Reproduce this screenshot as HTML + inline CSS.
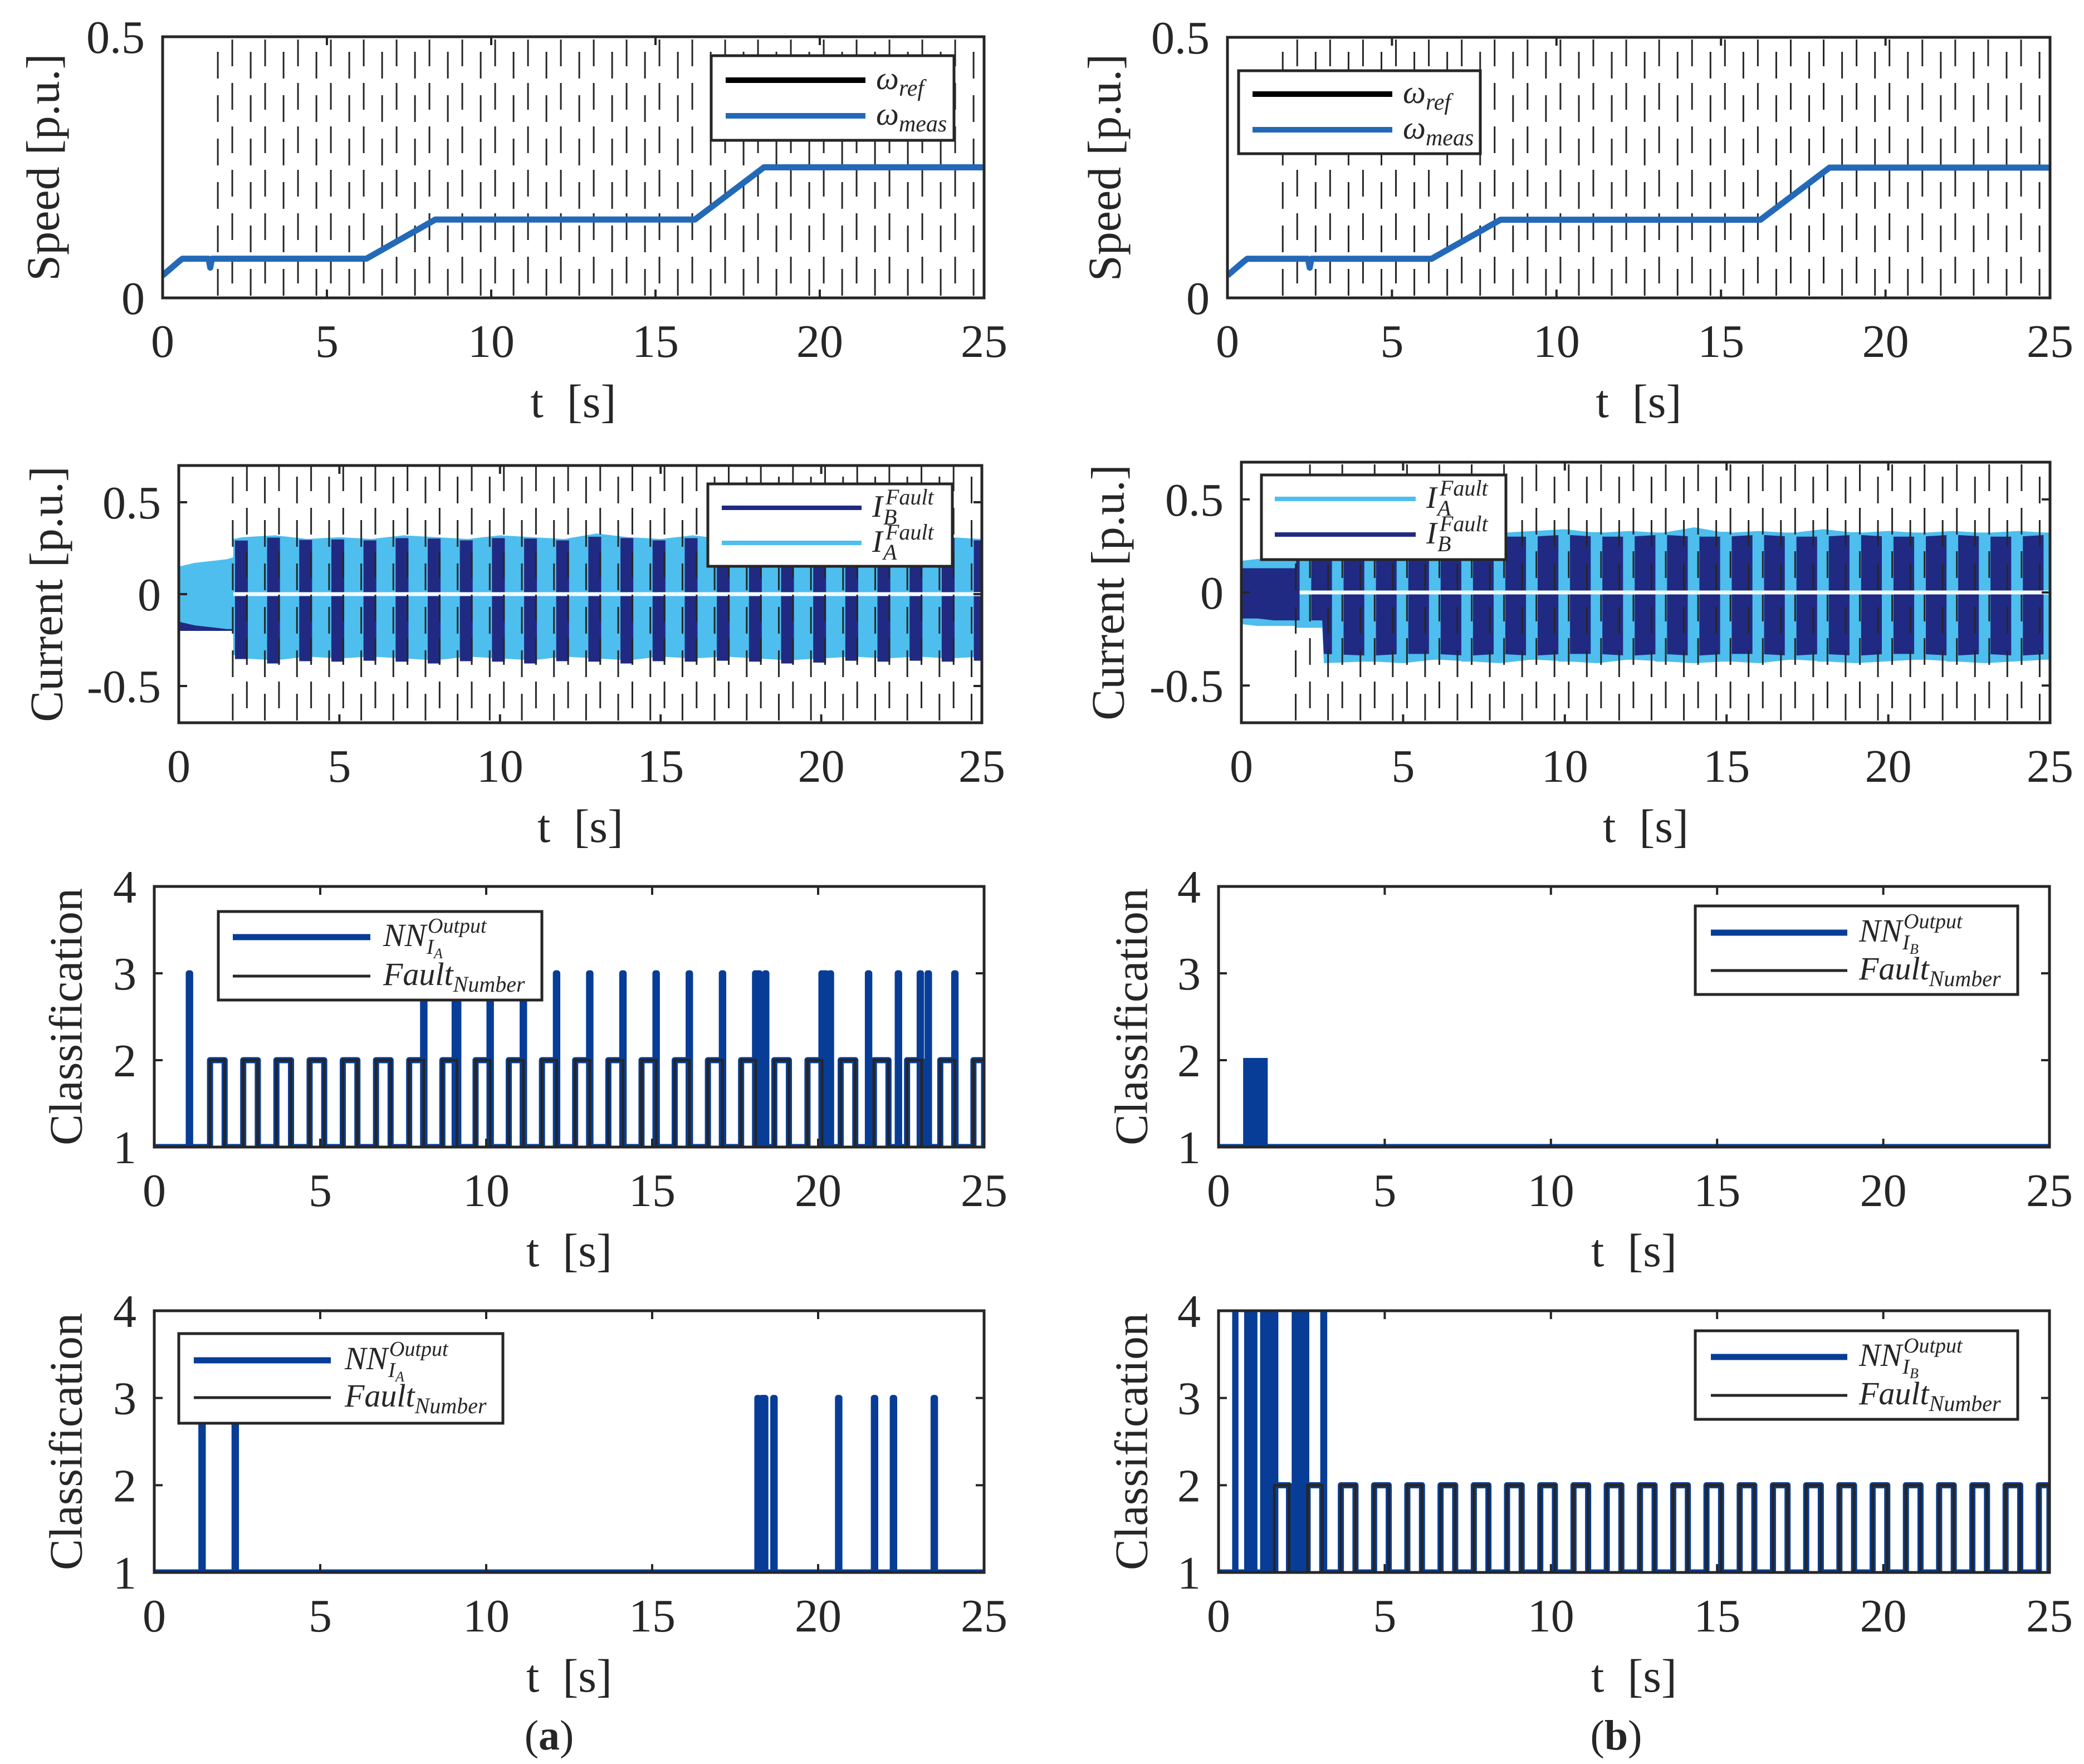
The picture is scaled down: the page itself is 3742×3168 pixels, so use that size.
<!DOCTYPE html>
<html><head><meta charset="utf-8">
<style>
html,body{margin:0;padding:0;background:#fff;}
svg{display:block;}
text{font-family:"Liberation Serif",serif;fill:#262626;}
</style></head>
<body>
<svg id="fig" xmlns="http://www.w3.org/2000/svg" width="3742" height="3168" viewBox="0 0 3742 3168">
<rect width="3742" height="3168" fill="#fff"/>
</svg>
<script>
// ---------- data ----------
const xTicks = [0,5,10,15,20,25];
const speedT_a = [0,0.5,0.6,1.4,1.45,1.5,6.2,8.3,16.2,18.3,25];
const speedV_a = [0.043,0.07,0.075,0.075,0.058,0.075,0.075,0.15,0.15,0.25,0.25];
const speedT_b = [0,0.5,0.6,2.45,2.5,2.55,6.2,8.3,16.2,18.3,25];
const speedV_b = [0.043,0.07,0.075,0.075,0.058,0.075,0.075,0.15,0.15,0.25,0.25];
const faultOn  = [1.68,2.68,3.68,4.68,5.68,6.68,7.68,8.68,9.68,10.68,11.68,12.68,13.68,14.68,15.68,16.68,17.68,18.68,19.68,20.68,21.68,22.68,23.68,24.68];
const faultOff = [2.12,3.12,4.12,5.12,6.12,7.12,8.12,9.12,10.12,11.12,12.12,13.12,14.12,15.12,16.12,17.12,18.12,19.12,20.12,21.12,22.12,23.12,24.12,25];
// current envelopes
const envT = [0,0.5,1,1.5,1.69,1.7,2,3,4,5,6,7,8,9,10,11,12,13,14,15,16,17,18,19,20,21,22,23,24,25];
const aLightTop = [0.15,0.17,0.18,0.19,0.2,0.3,0.31,0.32,0.3,0.31,0.3,0.32,0.31,0.3,0.32,0.31,0.3,0.33,0.31,0.3,0.32,0.3,0.31,0.3,0.32,0.31,0.3,0.33,0.31,0.3];
const aLightBot = [-0.15,-0.17,-0.18,-0.19,-0.19,-0.33,-0.35,-0.36,-0.34,-0.35,-0.34,-0.35,-0.36,-0.34,-0.35,-0.36,-0.34,-0.35,-0.36,-0.34,-0.35,-0.34,-0.35,-0.36,-0.35,-0.34,-0.35,-0.34,-0.35,-0.34];
const aDarkPreTop = 0.12, aDarkPreBot = -0.2;
const aBandB = [1.75,2.75,3.75,4.75,5.75,6.75,7.75,8.75,9.75,10.75,11.75,12.75,13.75,14.75,15.75,16.75,17.75,18.75,19.75,20.75,21.75,22.75,23.75,24.75];
const bLightTop = [0.17,0.18,0.18,0.18,0.18,0.32,0.32,0.33,0.32,0.33,0.32,0.35,0.32,0.33,0.34,0.32,0.33,0.32,0.35,0.32,0.33,0.32,0.34,0.32,0.33,0.32,0.33,0.32,0.33,0.32];
const bLightBot = [-0.17,-0.18,-0.18,-0.18,-0.18,-0.19,-0.19,-0.38,-0.37,-0.38,-0.36,-0.37,-0.38,-0.36,-0.37,-0.38,-0.36,-0.37,-0.38,-0.37,-0.38,-0.36,-0.37,-0.38,-0.37,-0.36,-0.37,-0.38,-0.37,-0.36];
const bDarkTop = [0.13,0.13,0.13,0.13,0.13,0.3,0.3,0.3,0.31,0.3,0.3,0.31,0.3,0.3,0.31,0.3,0.3,0.31,0.3,0.3,0.31,0.3,0.3,0.31,0.3,0.3,0.31,0.3,0.3,0.31];
const bDarkBot = [-0.14,-0.14,-0.15,-0.15,-0.15,-0.15,-0.15,-0.33,-0.34,-0.33,-0.33,-0.34,-0.33,-0.34,-0.33,-0.33,-0.34,-0.33,-0.34,-0.33,-0.33,-0.34,-0.33,-0.34,-0.33,-0.33,-0.34,-0.33,-0.34,-0.33];
const bBandA = [1.8,2.8,3.8,4.8,5.8,6.8,7.8,8.8,9.8,10.8,11.8,12.8,13.8,14.8,15.8,16.8,17.8,18.8,19.8,20.8,21.8,22.8,23.8,24.8];
// classification spikes / bursts
const nn3aSpikes = [1.04,8.1,9.05,9.12,10.1,11.1,12.1,13.1,14.1,15.1,16.1,17.1,18.1,18.2,18.4,20.1,20.2,20.35,21.5,22.4,23.06,23.3,24.1];
const nn4aSpikes = [1.42,2.42,18.17,18.3,18.37,18.65,20.6,21.68,22.25,23.48];
const nn3bBurstStart = [0.74], nn3bBurstEnd = [1.48], nn3bLevel = 2;
const nn4bBurstStart = [0.41,0.77,1.25,2.2,3.06];
const nn4bBurstEnd   = [0.6,1.17,1.8,2.73,3.27];
const nnSpikeLevel = 3, nn4bLevel = 4;

// ---------- layout ----------
const svg = document.getElementById('fig');
const NS = 'http://www.w3.org/2000/svg';
const C = {ax:'#262626', speed:'#2369b8', light:'#4dbeee', dark:'#212a82', nn:'#073d97', fault:'#262626'};
function el(tag, parent){ const e = document.createElementNS(NS, tag); (parent||svg).appendChild(e); return e; }
function setA(e, o){ for (const k in o) e.setAttribute(k, o[k]); return e; }

const P = {
  sa:{x0:292,x1:1767,y0:66,y1:535,ymin:0,ymax:0.5},
  sb:{x0:2204,x1:3681,y0:67,y1:535,ymin:0,ymax:0.5},
  ca:{x0:321,x1:1763,y0:836,y1:1298,ymin:-0.7,ymax:0.7},
  cb:{x0:2229,x1:3681,y0:830,y1:1298,ymin:-0.7,ymax:0.7},
  n3a:{x0:277,x1:1767,y0:1592,y1:2060,ymin:1,ymax:4},
  n4a:{x0:277,x1:1767,y0:2354,y1:2824,ymin:1,ymax:4},
  n3b:{x0:2188,x1:3680,y0:1592,y1:2060,ymin:1,ymax:4},
  n4b:{x0:2188,x1:3680,y0:2354,y1:2824,ymin:1,ymax:4}
};
function X(p,t){ return p.x0 + (t/25)*(p.x1-p.x0); }
function Y(p,v){ return p.y1 - (v-p.ymin)/(p.ymax-p.ymin)*(p.y1-p.y0); }
let clipN = 0;
function clipFor(p){
  const id = 'clip'+(clipN++);
  const cp = el('clipPath'); cp.setAttribute('id', id);
  setA(el('rect', cp), {x:p.x0, y:p.y0, width:p.x1-p.x0, height:p.y1-p.y0});
  const g = el('g'); g.setAttribute('clip-path', 'url(#'+id+')');
  return g;
}

function axes(p, name, yTicks, yLabels, ylabel, ylx){
  const g = el('g');
  
  
  const L = 15;
  xTicks.forEach(t=>{
    const x = X(p,t);
    setA(el('line',g),{x1:x,y1:p.y1,x2:x,y2:p.y1-L,stroke:C.ax,'stroke-width':4});
    setA(el('line',g),{x1:x,y1:p.y0,x2:x,y2:p.y0+L,stroke:C.ax,'stroke-width':4});
    const tx = el('text',g);
    setA(tx,{x:x,y:p.y1+106,'text-anchor':'middle','font-size':84});
    
    
    tx.textContent = String(t);
  });
  yTicks.forEach((v,i)=>{
    const y = Y(p,v);
    setA(el('line',g),{x1:p.x0,y1:y,x2:p.x0+L,y2:y,stroke:C.ax,'stroke-width':4});
    setA(el('line',g),{x1:p.x1,y1:y,x2:p.x1-L,y2:y,stroke:C.ax,'stroke-width':4});
    const tx = el('text',g);
    setA(tx,{x:p.x0-32,y:y+29,'text-anchor':'end','font-size':84});
    
    
    tx.textContent = yLabels[i];
  });
  setA(el('rect',g),{x:p.x0,y:p.y0,width:p.x1-p.x0,height:p.y1-p.y0,fill:'none',stroke:C.ax,'stroke-width':5});
  const xl = el('text',g);
  setA(xl,{x:(p.x0+p.x1)/2,y:p.y1+214,'text-anchor':'middle','font-size':84});
  
  
  xl.textContent = 't\u2002[s]';
  const yl = el('text',g);
  const cy = (p.y0+p.y1)/2;
  setA(yl,{x:ylx,y:cy,'text-anchor':'middle','font-size':84,transform:'rotate(-90 '+ylx+' '+cy+')','dominant-baseline':'central'});
  
  
  yl.textContent = ylabel;
}

function dashed(p, name){
  const g = clipFor(p);
  
  
  const ts = faultOn.concat(faultOff.filter(t=>t<25)).sort((a,b)=>a-b);
  ts.forEach((t,i)=>{
    const x = X(p,t);
    setA(el('line',g),{x1:x,y1:p.y1-4,x2:x,y2:p.y0,stroke:C.ax,'stroke-width':3,'stroke-dasharray':'48 30','stroke-dashoffset':(i%2? -22:0)});
  });
}

function polyEnv(p, g, T, top, bot, fill){
  let pts = [];
  for (let i=0;i<T.length;i++) pts.push(X(p,T[i])+','+Y(p,top[i]));
  for (let i=T.length-1;i>=0;i--) pts.push(X(p,T[i])+','+Y(p,bot[i]));
  return setA(el('polygon',g),{points:pts.join(' '),fill:fill});
}
function interp(T,V,t){ for(let i=1;i<T.length;i++){ if(t<=T[i]){ const f=(t-T[i-1])/(T[i]-T[i-1]); return V[i-1]+f*(V[i]-V[i-1]); } } return V[V.length-1]; }

function legendBox(x,y,w,h,name){
  const r = el('rect');
  setA(r,{x:x,y:y,width:w,height:h,fill:'#fff',stroke:C.ax,'stroke-width':5});
  
  
}
function legLine(x1,x2,y,color,w,name){
  const l = el('line');
  setA(l,{x1:x1,y1:y,x2:x2,y2:y,stroke:color,'stroke-width':w});
  
  
}
function omega(x,y,sub,name){
  const t = el('text');
  setA(t,{x:x,y:y+16,'font-size':58,'font-style':'italic'});
  
  
  t.appendChild(document.createTextNode('\u03c9'));
  const s = el('tspan',t); setA(s,{'font-size':42,dy:12}); s.textContent = sub;
}
function iFault(x,y,letter,name){
  const t = el('text');
  setA(t,{x:x,y:y+16,'font-size':56,'font-style':'italic'});
  
  
  t.appendChild(document.createTextNode('I'));
  const s1 = el('tspan',t); setA(s1,{x:x+24,y:y-6,'font-size':40}); s1.textContent='Fault';
  const s2 = el('tspan',t); setA(s2,{x:x+20,y:y+30,'font-size':40}); s2.textContent=letter;
}
function nnText(x,y,letter,name){
  const t = el('text');
  setA(t,{x:x,y:y+16,'font-size':58,'font-style':'italic'});
  
  
  t.appendChild(document.createTextNode('NN'));
  const s1 = el('tspan',t); setA(s1,{x:x+80,y:y-8,'font-size':38}); s1.textContent='Output';
  const s2 = el('tspan',t); setA(s2,{x:x+78,y:y+30,'font-size':38}); s2.textContent='I';
  const s3 = el('tspan',t); setA(s3,{x:x+91,y:y+38,'font-size':26}); s3.textContent=letter;
}
function faultText(x,y,name){
  const t = el('text');
  setA(t,{x:x,y:y+16,'font-size':58,'font-style':'italic'});
  
  
  t.appendChild(document.createTextNode('Fault'));
  const s = el('tspan',t); setA(s,{'font-size':40,dy:12}); s.textContent='Number';
}

// ---------- speed panels ----------
function speedPanel(p, T, V, name, leg){
  dashed(p, name);
  const g = clipFor(p);
  
  
  const ref = el('polyline', g);
  setA(ref,{points:T.map((t,i)=>X(p,t)+','+Y(p,V[i])).join(' '),fill:'none',stroke:'#000','stroke-width':10,'stroke-linejoin':'round'});
  
  
  const meas = el('polyline', g);
  setA(meas,{points:T.map((t,i)=>X(p,t)+','+Y(p,V[i])).join(' '),fill:'none',stroke:C.speed,'stroke-width':11,'stroke-linejoin':'round'});
  
  
  axes(p, name, [0,0.5], ['0','0.5'], 'Speed [p.u.]', leg.ylx);
  legendBox(leg.x, leg.y, leg.w, leg.h, name+'-legend');
  legLine(leg.lx1, leg.lx2, leg.r1, '#000', 10, 'legend-omega-ref');
  legLine(leg.lx1, leg.lx2, leg.r2, C.speed, 10, 'legend-omega-meas');
  omega(leg.tx, leg.r1, 'ref', 'legend-label-ref');
  omega(leg.tx, leg.r2, 'meas', 'legend-label-meas');
}
speedPanel(P.sa, speedT_a, speedV_a, 'speed-a', {ylx:78,x:1277,y:100,w:436,h:152,lx1:1303,lx2:1554,r1:144,r2:208,tx:1573});
speedPanel(P.sb, speedT_b, speedV_b, 'speed-b', {ylx:1984,x:2224,y:127,w:434,h:149,lx1:2249,lx2:2500,r1:169,r2:233,tx:2519});

// ---------- current panels ----------
(function(){
  const p = P.ca;
  const g = clipFor(p);
  
  
  const pre = setA(el('rect',g),{x:X(p,0),y:Y(p,aDarkPreTop),width:X(p,1.7)-X(p,0),height:Y(p,aDarkPreBot)-Y(p,aDarkPreTop),fill:C.dark});
  
  const lp = polyEnv(p, g, envT, aLightTop, aLightBot, C.light);
  
  aBandB.forEach(t=>{
    const w = 0.4;
    const top = interp(envT,aLightTop,t)-0.01, bot = interp(envT,aLightBot,t)-0.02;
    const r = setA(el('rect',g),{x:X(p,t),y:Y(p,top),width:X(p,t+w)-X(p,t),height:Y(p,bot)-Y(p,top),fill:C.dark});
    
  });
  setA(el('line',g),{x1:X(p,1.7),y1:Y(p,0),x2:X(p,25),y2:Y(p,0),stroke:'#f4fbfe','stroke-width':7});
  dashed(p, 'current-a');
  axes(p, 'current-a', [-0.5,0,0.5], ['-0.5','0','0.5'], 'Current [p.u.]', 84);
  legendBox(1271,869,439,148,'current-a-legend');
  legLine(1296,1547,912,C.dark,8,'legend-ib');
  legLine(1296,1547,975,C.light,8,'legend-ia');
  iFault(1566,912,'B','legend-label-ib');
  iFault(1566,975,'A','legend-label-ia');
})();
(function(){
  const p = P.cb;
  const g = clipFor(p);
  
  
  const T2 = envT.slice(); T2[6]=2.5; T2[7]=2.55;
  const l = polyEnv(p, g, T2, bLightTop, bLightBot, C.light);
  
  const d = polyEnv(p, g, T2, bDarkTop, bDarkBot, C.dark);
  
  bBandA.forEach(t=>{
    const w = 0.36;
    const top = interp(T2,bLightTop,t), bot = interp(T2,bLightBot,t+w);
    const r = setA(el('rect',g),{x:X(p,t),y:Y(p,top),width:X(p,t+w)-X(p,t),height:Y(p,bot)-Y(p,top),fill:C.light});
    
  });
  setA(el('line',g),{x1:X(p,1.8),y1:Y(p,0),x2:X(p,25),y2:Y(p,0),stroke:'#f4fbfe','stroke-width':7});
  dashed(p, 'current-b');
  axes(p, 'current-b', [-0.5,0,0.5], ['-0.5','0','0.5'], 'Current [p.u.]', 1990);
  legendBox(2265,853,439,152,'current-b-legend');
  legLine(2289,2542,896,C.light,8,'legend-ia');
  legLine(2289,2542,960,C.dark,8,'legend-ib');
  iFault(2561,896,'A','legend-label-ia');
  iFault(2561,960,'B','legend-label-ib');
})();

// ---------- classification panels ----------
function faultPath(p, on, off){
  let d = 'M'+X(p,0)+','+Y(p,1);
  for (let i=0;i<on.length;i++){
    d += ' L'+X(p,on[i])+','+Y(p,1)+' L'+X(p,on[i])+','+Y(p,2)+' L'+X(p,off[i])+','+Y(p,2)+' L'+X(p,off[i])+','+Y(p,1);
  }
  d += ' L'+X(p,25)+','+Y(p,1);
  return d;
}
function classPanel(p, name, opts){
  const g = clipFor(p);
  
  
  const flatD = 'M'+X(p,0)+','+Y(p,1)+' L'+X(p,25)+','+Y(p,1);
  const nn = el('path', g);
  setA(nn,{d: opts.follow ? faultPath(p,faultOn,faultOff) : flatD, fill:'none', stroke:C.nn,'stroke-width':11,'stroke-linejoin':'round'});
  
  
  (opts.spikes||[]).forEach(t=>{
    const s = el('path', g);
    setA(s,{d:'M'+X(p,t)+','+Y(p,1)+' L'+X(p,t)+','+Y(p,nnSpikeLevel)+' L'+X(p,t+0.04)+','+Y(p,nnSpikeLevel)+' L'+X(p,t+0.04)+','+Y(p,1),fill:'none',stroke:C.nn,'stroke-width':11,'stroke-linejoin':'round'});
    
    
  });
  (opts.bStart||[]).forEach((t,i)=>{
    const r = el('rect', g);
    const lv = opts.bLevel;
    setA(r,{x:X(p,t),y:Y(p,lv)-4,width:X(p,opts.bEnd[i])-X(p,t),height:Y(p,1)-Y(p,lv)+8,fill:C.nn});
    
    
  });
  const f = el('path', g);
  setA(f,{d: opts.follow ? faultPath(p,faultOn,faultOff) : flatD, fill:'none', stroke:C.fault,'stroke-width':5});
  
  
  axes(p, name, [1,2,3,4], ['1','2','3','4'], 'Classification', opts.ylx);
  const L = opts.leg;
  legendBox(L.x, L.y, L.w, L.h, name+'-legend');
  legLine(L.lx1, L.lx2, L.r1, C.nn, 11, 'legend-nn-output');
  legLine(L.lx1, L.lx2, L.r2, C.fault, 5, 'legend-fault-number');
  nnText(L.tx, L.r1, opts.letter, 'legend-label-nn');
  faultText(L.tx, L.r2, 'legend-label-fault');
}
classPanel(P.n3a, 'class-a-top', {follow:true, spikes:nn3aSpikes, ylx:119, letter:'A',
  leg:{x:392,y:1637,w:581,h:159,lx1:418,lx2:665,r1:1683,r2:1753,tx:688}});
classPanel(P.n4a, 'class-a-bottom', {follow:false, spikes:nn4aSpikes, ylx:119, letter:'A',
  leg:{x:321,y:2395,w:582,h:161,lx1:348,lx2:594,r1:2443,r2:2510,tx:619}});
classPanel(P.n3b, 'class-b-top', {follow:false, bStart:nn3bBurstStart, bEnd:nn3bBurstEnd, bLevel:nn3bLevel, ylx:2032, letter:'B',
  leg:{x:3044,y:1627,w:579,h:159,lx1:3072,lx2:3317,r1:1675,r2:1743,tx:3338}});
classPanel(P.n4b, 'class-b-bottom', {follow:true, bStart:nn4bBurstStart, bEnd:nn4bBurstEnd, bLevel:nn4bLevel, ylx:2032, letter:'B',
  leg:{x:3044,y:2390,w:579,h:159,lx1:3072,lx2:3317,r1:2437,r2:2506,tx:3338}});

// ---------- captions ----------
const ca = el('text'); setA(ca,{x:986,y:3142,'text-anchor':'middle','font-size':76});


ca.appendChild(document.createTextNode('('));
const cab = el('tspan',ca); cab.setAttribute('font-weight','bold'); cab.textContent='a';
ca.appendChild(document.createTextNode(')'));
const cb = el('text'); setA(cb,{x:2902,y:3142,'text-anchor':'middle','font-size':76});


cb.appendChild(document.createTextNode('('));
const cbb = el('tspan',cb); cbb.setAttribute('font-weight','bold'); cbb.textContent='b';
cb.appendChild(document.createTextNode(')'));
</script>
</body></html>
